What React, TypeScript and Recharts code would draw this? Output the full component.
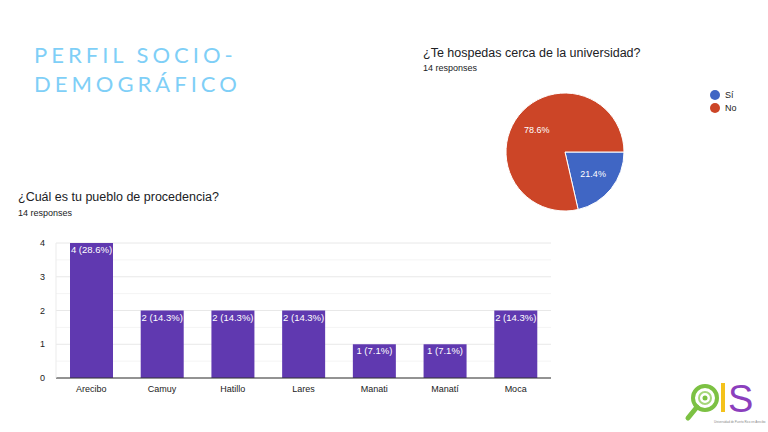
import { BarChart, Bar, XAxis, YAxis, CartesianGrid, LabelList, PieChart, Pie, Cell } from 'recharts'

const pueblos = ['Arecibo', 'Camuy', 'Hatillo', 'Lares', 'Manati', 'Manatí', 'Moca']
const pueblosCount = [4, 2, 2, 2, 1, 1, 2]
const yTicks = [0, 1, 2, 3, 4]
const minorTicks = [0.5, 1.5, 2.5, 3.5]

const hospedaLabels = ['Sí', 'No']
const hospedaCount = [3, 11]
const hospedaColors = ['#4066c4', '#cc4527']

const TOTAL = 14
const FONT = '"Liberation Sans", Arial, sans-serif'

const barData = pueblos.map((name, i) => ({ name, value: pueblosCount[i] }))
const pieData = hospedaLabels.map((name, i) => ({ name, value: hospedaCount[i] }))

function BarLabel(props: any) {
  const { x, y, width, value } = props
  const pct = ((value / TOTAL) * 100).toFixed(1)
  return (
    <text x={x + width / 2} y={y + 10} fill="#fff" fontSize={9.5} textAnchor="middle" fontFamily={FONT}>
      {`${value} (${pct}%)`}
    </text>
  )
}

const RAD = Math.PI / 180
function PieLabel(props: any) {
  const { cx, cy, midAngle, outerRadius, percent } = props
  const r = outerRadius * 0.61
  const x = cx + r * Math.cos(-midAngle * RAD)
  const y = cy + r * Math.sin(-midAngle * RAD)
  return (
    <text x={x} y={y} fill="#fff" fontSize={9} textAnchor="middle" dominantBaseline="central" fontFamily={FONT}>
      {(percent * 100).toFixed(1)}%
    </text>
  )
}

function Logo() {
  return (
    <svg width={90} height={58} style={{ position: 'absolute', left: 678, top: 372 }}>
      <circle cx={27} cy={26} r={12} fill="none" stroke="#7cc143" strokeWidth={4} />
      <circle cx={27} cy={26} r={6} fill="none" stroke="#a6d77a" strokeWidth={2} />
      <circle cx={27} cy={26} r={2.5} fill="#7cc143" />
      <line x1={19} y1={35} x2={10} y2={46} stroke="#7cc143" strokeWidth={5} strokeLinecap="round" />
      <rect x={43} y={11} width={4} height={29} fill="#f4c21b" />
      <text x={50} y={40} fontSize={38} fill="#8b3fbd" fontFamily={FONT}>S</text>
      <text x={36} y={51} fontSize={3} fill="#888" fontFamily={FONT}>Universidad de Puerto Rico en Arecibo</text>
    </svg>
  )
}

export default function App() {
  return (
    <div style={{ position: 'absolute', left: 0, top: 0, width: 768, height: 432, background: '#fff', overflow: 'hidden', fontFamily: FONT }}>
      <div style={{ position: 'absolute', left: 34, top: 40, color: '#7fcff7', fontFamily: 'Lato, sans-serif', fontSize: 22, letterSpacing: 4, lineHeight: '29px' }}>
        PERFIL SOCIO-<br />DEMOGRÁFICO
      </div>

      <div style={{ position: 'absolute', left: 423, top: 46, fontSize: 12.5, color: '#202124' }}>¿Te hospedas cerca de la universidad?</div>
      <div style={{ position: 'absolute', left: 423, top: 63, fontSize: 9, color: '#202124' }}>14 responses</div>

      <div style={{ position: 'absolute', left: 485, top: 76 }}>
        <PieChart width={150} height={150}>
          <Pie
            data={pieData}
            dataKey="value"
            nameKey="name"
            cx={75}
            cy={71}
            outerRadius={59}
            startAngle={0}
            endAngle={-360}
            stroke="#fff"
            strokeWidth={1}
            label={PieLabel}
            labelLine={false}
            isAnimationActive={false}
          >
            {pieData.map((d, i) => (
              <Cell key={d.name} fill={hospedaColors[i]} />
            ))}
          </Pie>
        </PieChart>
      </div>

      {hospedaLabels.map((l, i) => (
        <div key={l} style={{ position: 'absolute', left: 710, top: 90 + i * 13, display: 'flex', alignItems: 'center', fontSize: 9, color: '#222' }}>
          <span style={{ width: 10, height: 10, borderRadius: 5, background: hospedaColors[i], marginRight: 5, display: 'inline-block' }} />
          {l}
        </div>
      ))}

      <div style={{ position: 'absolute', left: 18, top: 190, fontSize: 12.5, color: '#202124' }}>¿Cuál es tu pueblo de procedencia?</div>
      <div style={{ position: 'absolute', left: 18, top: 208, fontSize: 9, color: '#202124' }}>14 responses</div>

      <div style={{ position: 'absolute', left: 0, top: 233 }}>
        <BarChart width={560} height={175} data={barData} margin={{ top: 10, right: 9, left: 36, bottom: 10 }}>
          <CartesianGrid vertical={false} stroke="#f4f4f4" horizontalValues={minorTicks} />
          <CartesianGrid vertical={false} stroke="#e8e8e8" />
          <XAxis
            dataKey="name"
            tickLine={false}
            axisLine={{ stroke: '#333' }}
            tick={{ fontSize: 9, fill: '#222', fontFamily: FONT }}
            height={20}
          />
          <YAxis
            ticks={yTicks}
            domain={[0, 4]}
            width={20}
            tickLine={false}
            axisLine={{ stroke: '#ebebeb' }}
            tick={{ fontSize: 9, fill: '#222', fontFamily: FONT, dx: -3 }}
          />
          <Bar dataKey="value" fill="#6039b0" barSize={43} isAnimationActive={false}>
            <LabelList dataKey="value" content={BarLabel} />
          </Bar>
        </BarChart>
      </div>

      <Logo />
    </div>
  )
}
